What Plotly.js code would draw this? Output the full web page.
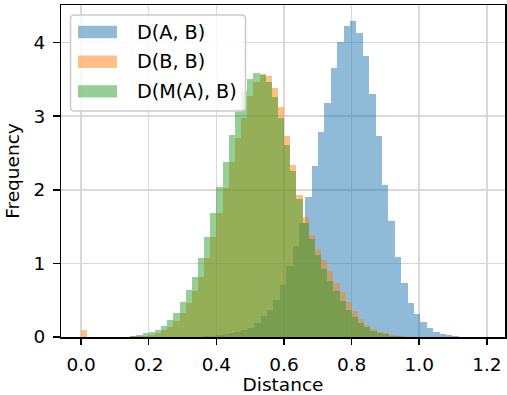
<!DOCTYPE html>
<html><head><meta charset="utf-8">
<script src="https://cdn.plot.ly/plotly-3.0.1.min.js"></script>
<style>html,body{margin:0;padding:0;background:#fff}#chart{width:507px;height:395px}</style>
</head><body><div id="chart"></div>
<script>
// ---- data ----
const seriesNames = ['D(A, B)', 'D(B, B)', 'D(M(A), B)'];

// D(A, B): bins start at blueStart, width blueWidth
const blueStart = 0.3418, blueWidth = 0.0189;
const blueValues = [0.005, 0.01, 0.015, 0.025, 0.035, 0.05, 0.07, 0.09,
  0.12, 0.19, 0.28, 0.37, 0.50, 0.71, 0.96, 1.23, 1.55, 1.90,
  2.32, 2.79, 3.18, 3.65, 4.01, 4.23, 4.29, 4.13, 3.82, 3.30, 2.73,
  2.07, 1.57, 1.09, 0.74, 0.46, 0.31, 0.20, 0.12, 0.064, 0.037, 0.022, 0.012, 0.006, 0.003];

// D(B, B)
const orangeStart = 0.0, orangeWidth = 0.0182;
const orangeValues = [0.10, 0, 0, 0, 0, 0, 0, 0,
  0.01, 0.01, 0.015, 0.03, 0.05, 0.09, 0.14, 0.22, 0.32, 0.46,
  0.62, 0.82, 1.07, 1.36, 1.68, 2.02, 2.38, 2.70, 2.98, 3.28,
  3.47, 3.57, 3.55, 3.38, 3.12, 2.73, 2.33, 1.93, 1.63, 1.39,
  1.19, 1.05, 0.89, 0.73, 0.61, 0.47, 0.36, 0.25, 0.16, 0.11, 0.07, 0.05, 0.03, 0.02, 0.01, 0.005];

// D(M(A), B)
const greenStart = 0.0, greenWidth = 0.0182;
const greenValues = [0, 0, 0, 0, 0, 0, 0, 0,
  0.02, 0.03, 0.05, 0.07, 0.10, 0.15, 0.23, 0.33, 0.48, 0.64,
  0.82, 1.07, 1.36, 1.68, 2.04, 2.38, 2.74, 3.10, 3.34, 3.51,
  3.59, 3.56, 3.47, 3.26, 2.97, 2.61, 2.25, 1.88, 1.55, 1.33,
  1.12, 0.93, 0.76, 0.62, 0.49, 0.37, 0.27, 0.19, 0.13, 0.085, 0.055, 0.035, 0.02, 0.012, 0.006];

const xTickValues = [0, 0.2, 0.4, 0.6, 0.8, 1.0, 1.2];
const xTickLabels = ['0.0', '0.2', '0.4', '0.6', '0.8', '1.0', '1.2'];
const yTickValues = [0, 1, 2, 3, 4];
const yTickLabels = ['0', '1', '2', '3', '4'];

// ---- style ----
const colors = ['rgba(31,119,180,0.5)', 'rgba(255,127,14,0.5)', 'rgba(44,160,44,0.5)'];
const FONT = 'DejaVu Sans, Verdana, sans-serif';
const FS = 18.5;
const LEGEND_FS = 19.2;

function histTrace(start, width, values, name, color) {
  return {
    type: 'bar',
    name: name,
    x: values.map((_, i) => start + (i + 0.5) * width),
    y: values,
    width: values.map(() => width),
    marker: { color: color, line: { width: 0 } },
    showlegend: false,
    hoverinfo: 'skip'
  };
}

const data = [
  histTrace(blueStart, blueWidth, blueValues, seriesNames[0], colors[0]),
  histTrace(orangeStart, orangeWidth, orangeValues, seriesNames[1], colors[1]),
  histTrace(greenStart, greenWidth, greenValues, seriesNames[2], colors[2])
];

// plot area in pixels
const L = 61, T = 5, W = 444, H = 332;
const px = p => (p - L) / W;
const py = p => (T + H - p) / H;

// custom matplotlib-like legend
const box = { x0: 70.5, x1: 245.5, y0: 15, y1: 111, r: 4 };
function roundRectPath(b) {
  const x0 = px(b.x0), x1 = px(b.x1), yt = py(b.y0), yb = py(b.y1);
  const rx = b.r / W, ry = b.r / H;
  return `M${x0 + rx},${yt} L${x1 - rx},${yt} Q${x1},${yt} ${x1},${yt - ry} ` +
         `L${x1},${yb + ry} Q${x1},${yb} ${x1 - rx},${yb} L${x0 + rx},${yb} ` +
         `Q${x0},${yb} ${x0},${yb + ry} L${x0},${yt - ry} Q${x0},${yt} ${x0 + rx},${yt} Z`;
}
const rowCenters = [32, 61.7, 91.4];
const shapes = [{
  type: 'path', xref: 'paper', yref: 'paper', layer: 'above',
  path: roundRectPath(box),
  fillcolor: 'rgba(255,255,255,0.8)', line: { color: '#cccccc', width: 1.5 }
}];
const annotations = [];
rowCenters.forEach((c, i) => {
  shapes.push({
    type: 'rect', xref: 'paper', yref: 'paper', layer: 'above',
    x0: px(78), x1: px(117), y0: py(c + 6.2), y1: py(c - 6.2),
    fillcolor: colors[i], line: { width: 0 }
  });
  annotations.push({
    xref: 'paper', yref: 'paper', x: px(135), y: py(c),
    xanchor: 'left', yanchor: 'middle', showarrow: false,
    text: seriesNames[i], font: { family: FONT, size: LEGEND_FS, color: '#000' }
  });
});

const axisCommon = {
  showline: true, linecolor: '#000', linewidth: 1.5, mirror: true,
  ticks: 'outside', ticklen: 6.5, tickwidth: 1.5, tickcolor: '#000',
  showgrid: true, gridcolor: '#d9d9d9', gridwidth: 1.5,
  zeroline: false,
  tickfont: { family: FONT, size: FS, color: '#000' }
};

const layout = {
  width: 507, height: 395,
  margin: { l: L, r: 507 - L - W, t: T, b: 395 - T - H },
  paper_bgcolor: '#fff', plot_bgcolor: '#fff',
  barmode: 'overlay', bargap: 0,
  showlegend: false,
  xaxis: Object.assign({}, axisCommon, {
    range: [-0.0594, 1.2536],
    tickmode: 'array', tickvals: xTickValues, ticktext: xTickLabels,
    ticklabelstandoff: 4,
    title: { text: 'Distance', font: { family: FONT, size: FS, color: '#000' }, standoff: 7 }
  }),
  yaxis: Object.assign({}, axisCommon, {
    range: [0, 4.51],
    tickmode: 'array', tickvals: yTickValues, ticktext: yTickLabels,
    ticklabelstandoff: 4,
    title: { text: 'Frequency', font: { family: FONT, size: FS, color: '#000' }, standoff: 9 }
  }),
  shapes: shapes,
  annotations: annotations
};

Plotly.newPlot('chart', data, layout, { staticPlot: true, displayModeBar: false });
</script>
</body></html>
